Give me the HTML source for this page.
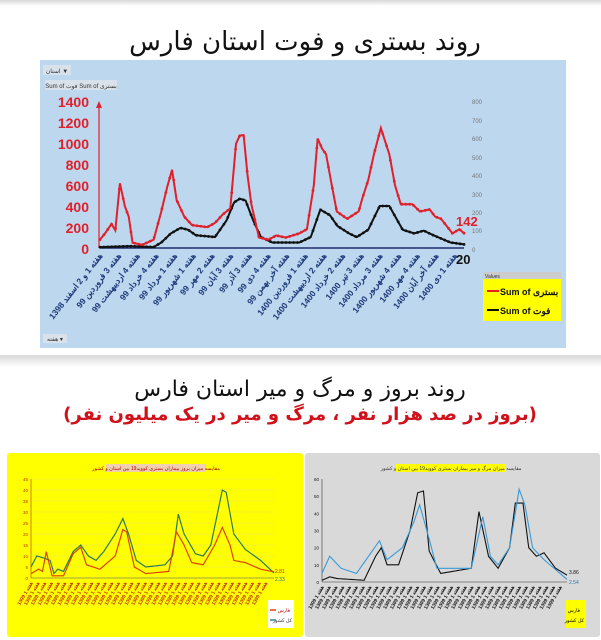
<!DOCTYPE html>
<html><head><meta charset="utf-8"><style>
body{margin:0;width:601px;height:640px;background:#fff;overflow:hidden;font-family:"Liberation Sans","Noto Sans CJK SC",sans-serif}
svg{display:block}
</style></head><body>
<svg id="s" width="601" height="640" viewBox="0 0 601 640" xmlns="http://www.w3.org/2000/svg">
<defs>
<linearGradient id="g1" x1="0" y1="0" x2="0" y2="1"><stop offset="0" stop-color="#d8d8d8"/><stop offset="1" stop-color="#fff"/></linearGradient>
</defs>
<rect x="0" y="0" width="601" height="6" fill="url(#g1)"/>
<rect x="0" y="355" width="601" height="12" fill="url(#g1)"/>
<text x="305" y="50" font-size="26" text-anchor="middle" fill="#111" font-family="DejaVu Sans,sans-serif">روند بستری و فوت استان فارس</text>
<rect x="40" y="60" width="526" height="288" fill="#bdd7ee"/>
<rect x="43" y="65" width="28" height="10" fill="#d9e2ea"/><text x="57" y="73" font-size="6" text-anchor="middle" fill="#333">استان ▼</text>
<rect x="45" y="80" width="72" height="10" fill="#d9e2ea"/><text x="81" y="88" font-size="6" text-anchor="middle" fill="#333">Sum of فوت  Sum of بستری</text>
<rect x="43" y="334" width="24" height="9" fill="#d9e2ea"/><text x="55" y="341" font-size="6" text-anchor="middle" fill="#333">هفته ▾</text>
<g id="topg"></g>
<g font-size="14" font-weight="bold" fill="#e0202a" text-anchor="end">
<text x="89" y="107">1400</text><text x="89" y="128">1200</text><text x="89" y="149">1000</text><text x="89" y="170">800</text><text x="89" y="191">600</text><text x="89" y="212">400</text><text x="89" y="233">200</text><text x="89" y="254">0</text>
</g>
<g font-size="6" fill="#777">
<text x="472" y="104">800</text><text x="472" y="123">700</text><text x="472" y="141">600</text><text x="472" y="160">500</text><text x="472" y="178">400</text><text x="472" y="197">300</text><text x="472" y="215">200</text><text x="472" y="233">100</text><text x="472" y="252">0</text>
</g>
<text x="456" y="226" font-size="13" font-weight="bold" fill="#e0202a">142</text>
<text x="456" y="264" font-size="13" font-weight="bold" fill="#111">20</text>
<rect x="483" y="272" width="78" height="49" fill="#ffff00"/>
<rect x="483" y="272" width="78" height="7" fill="#ccc"/><text x="485" y="278" font-size="5" fill="#333">Values</text>
<line x1="487" y1="291" x2="499" y2="291" stroke="#e0202a" stroke-width="2"/>
<text x="500" y="295" font-size="9" font-weight="bold" fill="#111">Sum of بستری</text>
<line x1="487" y1="310" x2="499" y2="310" stroke="#111" stroke-width="2"/>
<text x="500" y="314" font-size="9" font-weight="bold" fill="#111">Sum of فوت</text>
<g id="xl" font-size="8.5" font-weight="bold" fill="#1f3a7a"></g>

<text x="300" y="396" font-size="22" text-anchor="middle" fill="#111" font-family="DejaVu Sans,sans-serif">روند بروز و مرگ و میر استان فارس</text>
<text x="300" y="420" font-size="18" font-weight="bold" text-anchor="middle" fill="#d0101a" font-family="DejaVu Sans,sans-serif">(بروز در صد هزار نفر ، مرگ و میر در یک میلیون نفر)</text>

<rect x="7" y="453" width="296" height="184" rx="3" fill="#ffff00"/>
<rect x="305" y="453" width="295" height="184" rx="3" fill="#d9d9d9"/>
<rect x="106" y="464" width="100" height="8" fill="#f0d0b0"/><text x="156" y="470" font-size="5" text-anchor="middle" fill="#a00">مقایسه میزان بروز بیماران بستری کووید19 بین استان و کشور</text>
<rect x="396" y="464" width="110" height="8" fill="#ffff00"/><text x="451" y="470" font-size="5" text-anchor="middle" fill="#333">مقایسه میزان مرگ و میر بیماران بستری کووید19 بین استان و کشور</text>
<g id="bot"></g>
<rect x="268" y="600" width="26" height="28" fill="#fff"/>
<text x="290" y="612" font-size="5" text-anchor="end" fill="#a00">فارس</text><line x1="270" y1="610" x2="276" y2="610" stroke="#e04000" stroke-width="1.5"/>
<text x="292" y="622" font-size="5" text-anchor="end" fill="#333">کل کشور</text><line x1="270" y1="620" x2="276" y2="620" stroke="#2a8a8a" stroke-width="1.5"/>
<rect x="566" y="600" width="20" height="28" fill="#ffff00"/>
<text x="580" y="612" font-size="5" text-anchor="end">فارس</text>
<text x="584" y="622" font-size="5" text-anchor="end">کل کشور</text>
<text x="275" y="573" font-size="5" fill="#c03000">2.81</text><text x="275" y="581" font-size="5" fill="#2a6a8a">2.33</text>
<text x="569" y="574" font-size="5" fill="#111">3.86</text><text x="569" y="584" font-size="5" fill="#2a7ab0">2.54</text>
</svg>
<script>
(function(){
const NS="http://www.w3.org/2000/svg";
function el(p,t,a){const e=document.createElementNS(NS,t);for(const k in a)e.setAttribute(k,a[k]);p.appendChild(e);return e;}
function interp(kp,n){const out=[];const x0=kp[0][0],x1=kp[kp.length-1][0];for(let i=0;i<n;i++){const x=x0+(x1-x0)*i/(n-1);let j=0;while(j<kp.length-2&&kp[j+1][0]<x)j++;const a=kp[j],b=kp[j+1];const t=(x-a[0])/(b[0]-a[0]||1);out.push([x,a[1]+(b[1]-a[1])*t]);}return out;}
function dense(kp,n){return interp(kp,n).concat(kp).sort((a,b)=>a[0]-b[0]);}
const tg=document.getElementById('topg');
const fx=X=>100+(X-260)/950*364;
const red=[[260,80],[275,150],[290,230],[300,170],[312,620],[325,400],[335,300],[345,50],[370,30],[400,80],[420,350],[435,580],[448,750],[460,460],[480,300],[500,220],[520,210],[540,200],[560,240],[580,320],[600,380],[615,1000],[625,1080],[635,1080],[645,700],[655,420],[675,100],[700,80],[720,120],[745,100],[780,140],[800,180],[818,600],[828,1050],[840,950],[850,900],[865,600],[878,350],[905,280],[935,350],[945,480],[960,650],[975,900],[993,1150],[1015,900],[1030,600],[1045,420],[1075,420],[1095,350],[1120,370],[1135,300],[1150,280],[1180,140],[1198,180],[1210,142]];
const blk=[[260,5],[340,10],[400,5],[420,30],[445,80],[470,110],[490,100],[510,70],[560,60],[590,150],[610,250],[625,270],[640,260],[660,150],[680,60],[710,30],[780,30],[810,60],[835,210],[860,180],[880,120],[910,80],[930,60],[960,100],[990,230],[1015,230],[1050,100],[1080,80],[1105,95],[1130,70],[1175,30],[1210,20]];
el(tg,'line',{x1:100,y1:248,x2:464,y2:248,stroke:'#1f2f6f','stroke-width':1.5});
el(tg,'line',{x1:99,y1:248,x2:99,y2:104,stroke:'#e0202a','stroke-width':1.2});
el(tg,'path',{d:'M96,108 L99,101 L102,108Z',fill:'#e0202a'});
function drawTop(kp,scale,col){const pts=dense(kp,95).map(p=>[fx(p[0]),248-p[1]*scale]);el(tg,'polyline',{points:pts.map(p=>p.join(',')).join(' '),fill:'none',stroke:col,'stroke-width':2});interp(kp,95).map(p=>[fx(p[0]),248-p[1]*scale]).forEach(p=>el(tg,'circle',{cx:p[0],cy:p[1],r:1.4,fill:col}));}
drawTop(blk,146/800,'#111');
drawTop(red,146/1400,'#e0202a');
const labs=["هفته 1 و 2 اسفند 1398","هفته 3 فروردین 99","هفته 4 اردیبهشت 99","هفته 4 خرداد 99","هفته 1 مرداد 99","هفته 1 شهریور 99","هفته 2 مهر 99","هفته 3 آبان 99","هفته 3 آذر 99","هفته 4 دی 99","هفته آخر بهمن 99","هفته 1 فروردین 1400","هفته 2 اردیبهشت 1400","هفته 2 خرداد 1400","هفته 3 تیر 1400","هفته 3 مرداد 1400","هفته 4 شهریور 1400","هفته 4 مهر 1400","هفته آخر آبان 1400","هفته 1 دی 1400"];
const xl=document.getElementById('xl');
labs.forEach((l,i)=>{const x=103+i*(364/19.5);const t=el(xl,'text',{x:x,y:256,'text-anchor':'end',transform:`rotate(-52 ${x} 256)`});t.textContent=l;});
const bot=document.getElementById('bot');
function drawBot(kp,X0,X1,px0,px1,base,topy,maxv,col,w){const pts=dense(kp,95).map(p=>[px0+(p[0]-X0)/(X1-X0)*(px1-px0),base-p[1]/maxv*(base-topy)]);el(bot,'polyline',{points:pts.map(p=>p.join(',')).join(' '),fill:'none',stroke:col,'stroke-width':w});}
for(let v=0;v<=45;v+=5){const y=578-v/45*99;el(bot,'line',{x1:31,y1:y,x2:274,y2:y,stroke:'#e8e070','stroke-width':0.4});const t=el(bot,'text',{x:28,y:y+2,'font-size':4.5,'text-anchor':'end',fill:'#c03000'});t.textContent=v;}
el(bot,'line',{x1:31,y1:578,x2:274,y2:578,stroke:'#555','stroke-width':0.6});
el(bot,'line',{x1:31,y1:479,x2:31,y2:578,stroke:'#c03000','stroke-width':0.6});
for(let v=0;v<=60;v+=10){const y=582-v/60*103;const t=el(bot,'text',{x:319,y:y+2,'font-size':4.5,'text-anchor':'end',fill:'#111'});t.textContent=v;}
el(bot,'line',{x1:322,y1:582,x2:567,y2:582,stroke:'#333','stroke-width':0.6});
el(bot,'line',{x1:322,y1:479,x2:322,y2:582,stroke:'#333','stroke-width':0.6});
const g=[[80,5],[95,10],[115,9],[130,8],[140,2],[150,4],[165,3],[190,12],[210,15],[230,10],[250,8],[270,12],[300,20],[320,27],[335,20],[355,8],[380,5],[430,6],[450,10],[465,29],[480,20],[510,11],[530,10],[550,15],[580,40],[590,39],[610,20],[640,13],[680,8],[715,2.3]];
const r=[[80,2],[100,4],[110,3],[120,12],[135,1],[165,1],[190,11],[210,14],[225,6],[260,4],[300,10],[320,22],[330,21],[350,5],[380,2],[440,3],[460,21],[480,15],[500,7],[530,6],[560,15],[580,23],[600,15],[610,8],[640,7],[680,4],[715,2.8]];
drawBot(g,80,715,31,274,578,479,45,'#2a7a5a',1.2);
drawBot(r,80,715,31,274,578,479,45,'#e04000',1.2);
const b=[[840,5],[860,15],[890,8],[930,5],[990,24],[1010,13],[1050,20],[1080,35],[1095,45],[1120,25],[1140,8],[1200,8],[1230,8],[1260,38],[1280,15],[1300,10],[1330,20],[1355,54],[1370,45],[1390,20],[1420,13],[1480,1.5]];
const k=[[840,1],[860,3],[880,2],[950,1],[980,15],[995,20],[1010,10],[1040,10],[1070,30],[1090,52],[1105,53],[1120,18],[1150,5],[1230,8],[1250,41],[1275,15],[1300,8],[1330,20],[1345,46],[1365,46],[1380,20],[1400,15],[1420,17],[1450,8],[1480,4]];
drawBot(k,840,1480,322,567,582,479,60,'#111',1.1);
drawBot(b,840,1480,322,567,582,479,60,'#3a9ad8',1.1);
for(let i=0;i<36;i++){let x=33+i*6.7;let t=el(bot,'text',{x:x,y:583,'font-size':5,'font-weight':'bold','text-anchor':'end',fill:'#c03000',transform:`rotate(-60 ${x} 583)`});t.textContent='هفته 1 1399';
x=324+i*6.8;t=el(bot,'text',{x:x,y:587,'font-size':5,'font-weight':'bold','text-anchor':'end',fill:'#111',transform:`rotate(-60 ${x} 587)`});t.textContent='هفته 1 1399';}
})();
</script>
</body></html>
